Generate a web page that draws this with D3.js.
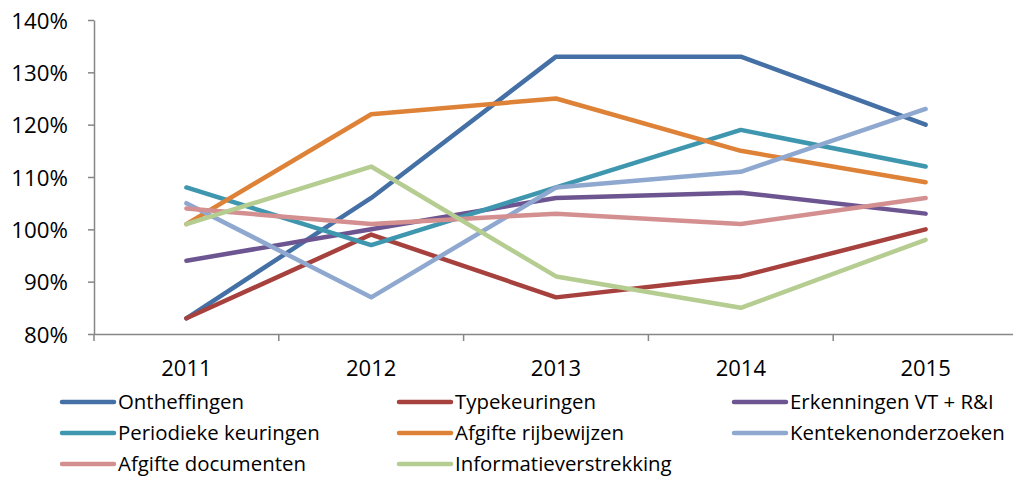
<!DOCTYPE html>
<html>
<head>
<meta charset="utf-8">
<script src="https://cdn.jsdelivr.net/npm/d3@7"></script>
<style>
  body { margin: 0; background: #fff; }
  svg { display: block; font-family: "Open Sans", sans-serif; }
</style>
</head>
<body>
<svg id="chart" width="1013" height="477"></svg>
<script>
var years = ["2011", "2012", "2013", "2014", "2015"];
var yTicks = [0.8, 0.9, 1.0, 1.1, 1.2, 1.3, 1.4];

var seriesNames = ["Ontheffingen", "Typekeuringen", "Erkenningen VT + R&I",
  "Periodieke keuringen", "Afgifte rijbewijzen", "Kentekenonderzoeken",
  "Afgifte documenten", "Informatieverstrekking"];
var seriesColors = ["#4470A6", "#A6413E", "#6C5590", "#3E97AE", "#DD8237", "#8FA8D0", "#D49090", "#B6CD92"];

var ontheffingen = [0.83, 1.06, 1.33, 1.33, 1.20];
var typekeuringen = [0.83, 0.99, 0.87, 0.91, 1.00];
var erkenningen = [0.94, 1.00, 1.06, 1.07, 1.03];
var periodiek = [1.08, 0.97, 1.08, 1.19, 1.12];
var rijbewijzen = [1.01, 1.22, 1.25, 1.15, 1.09];
var kenteken = [1.05, 0.87, 1.08, 1.11, 1.23];
var documenten = [1.04, 1.01, 1.03, 1.01, 1.06];
var informatie = [1.01, 1.12, 0.91, 0.85, 0.98];

var seriesValues = [ontheffingen, typekeuringen, erkenningen, periodiek,
  rijbewijzen, kenteken, documenten, informatie];

var svg = d3.select("#chart");
var plotLeft = 94, plotRight = 1018, plotTop = 20, plotBottom = 334;

var x = d3.scaleBand().domain(years).range([plotLeft, plotRight]);
var y = d3.scaleLinear().domain([0.8, 1.4]).range([plotBottom, plotTop]);

// y axis
var yAxis = svg.append("g")
  .attr("transform", "translate(" + plotLeft + ",0)")
  .call(d3.axisLeft(y).tickValues(yTicks).tickSize(6).tickSizeOuter(0)
    .tickFormat(d3.format(".0%")));
yAxis.select(".domain").attr("stroke", "#868686").attr("stroke-width", 1.5);
yAxis.selectAll(".tick line").attr("stroke", "#868686").attr("stroke-width", 1.5);
yAxis.selectAll(".tick text").attr("font-size", 22.3).attr("fill", "#000")
  .attr("x", -26).attr("dy", "0.36em").attr("font-family", "Open Sans, sans-serif");

// x axis
var xAxis = svg.append("g")
  .attr("transform", "translate(0," + plotBottom + ")")
  .call(d3.axisBottom(x).tickSize(0).tickSizeOuter(0));
xAxis.select(".domain").attr("stroke", "#868686").attr("stroke-width", 1.5);
xAxis.selectAll(".tick text").attr("font-size", 22).attr("fill", "#000")
  .attr("dy", 0).attr("y", 42).attr("font-family", "Open Sans, sans-serif");

// category boundary ticks
var bounds = years.map(function(d) { return x(d); });
bounds.push(x(years[years.length - 1]) + x.bandwidth());
svg.append("g").selectAll("line").data(bounds).enter().append("line")
  .attr("x1", function(d) { return d; }).attr("x2", function(d) { return d; })
  .attr("y1", plotBottom).attr("y2", plotBottom + 7)
  .attr("stroke", "#868686").attr("stroke-width", 1.5);

var line = d3.line()
  .x(function(d, i) { return x(years[i]) + x.bandwidth() / 2; })
  .y(function(d) { return y(d); });

svg.append("g").selectAll("path").data(seriesValues).enter().append("path")
  .attr("d", line)
  .attr("fill", "none")
  .attr("stroke", function(d, i) { return seriesColors[i]; })
  .attr("stroke-width", 4.5)
  .attr("stroke-linecap", "round")
  .attr("stroke-linejoin", "round");

// legend
var legendCols = [60, 397, 732];
var legendRows = [402, 433, 464];
var legend = svg.append("g").selectAll("g").data(seriesNames).enter().append("g")
  .attr("transform", function(d, i) {
    return "translate(" + legendCols[i % 3] + "," + legendRows[Math.floor(i / 3)] + ")";
  });
legend.append("line")
  .attr("x1", 2).attr("x2", 54).attr("y1", 0).attr("y2", 0)
  .attr("stroke", function(d, i) { return seriesColors[i]; })
  .attr("stroke-width", 4.5).attr("stroke-linecap", "round");
legend.append("text")
  .attr("x", 58).attr("y", 7)
  .attr("font-size", 20.4)
  .text(function(d) { return d; });
</script>
</body>
</html>
